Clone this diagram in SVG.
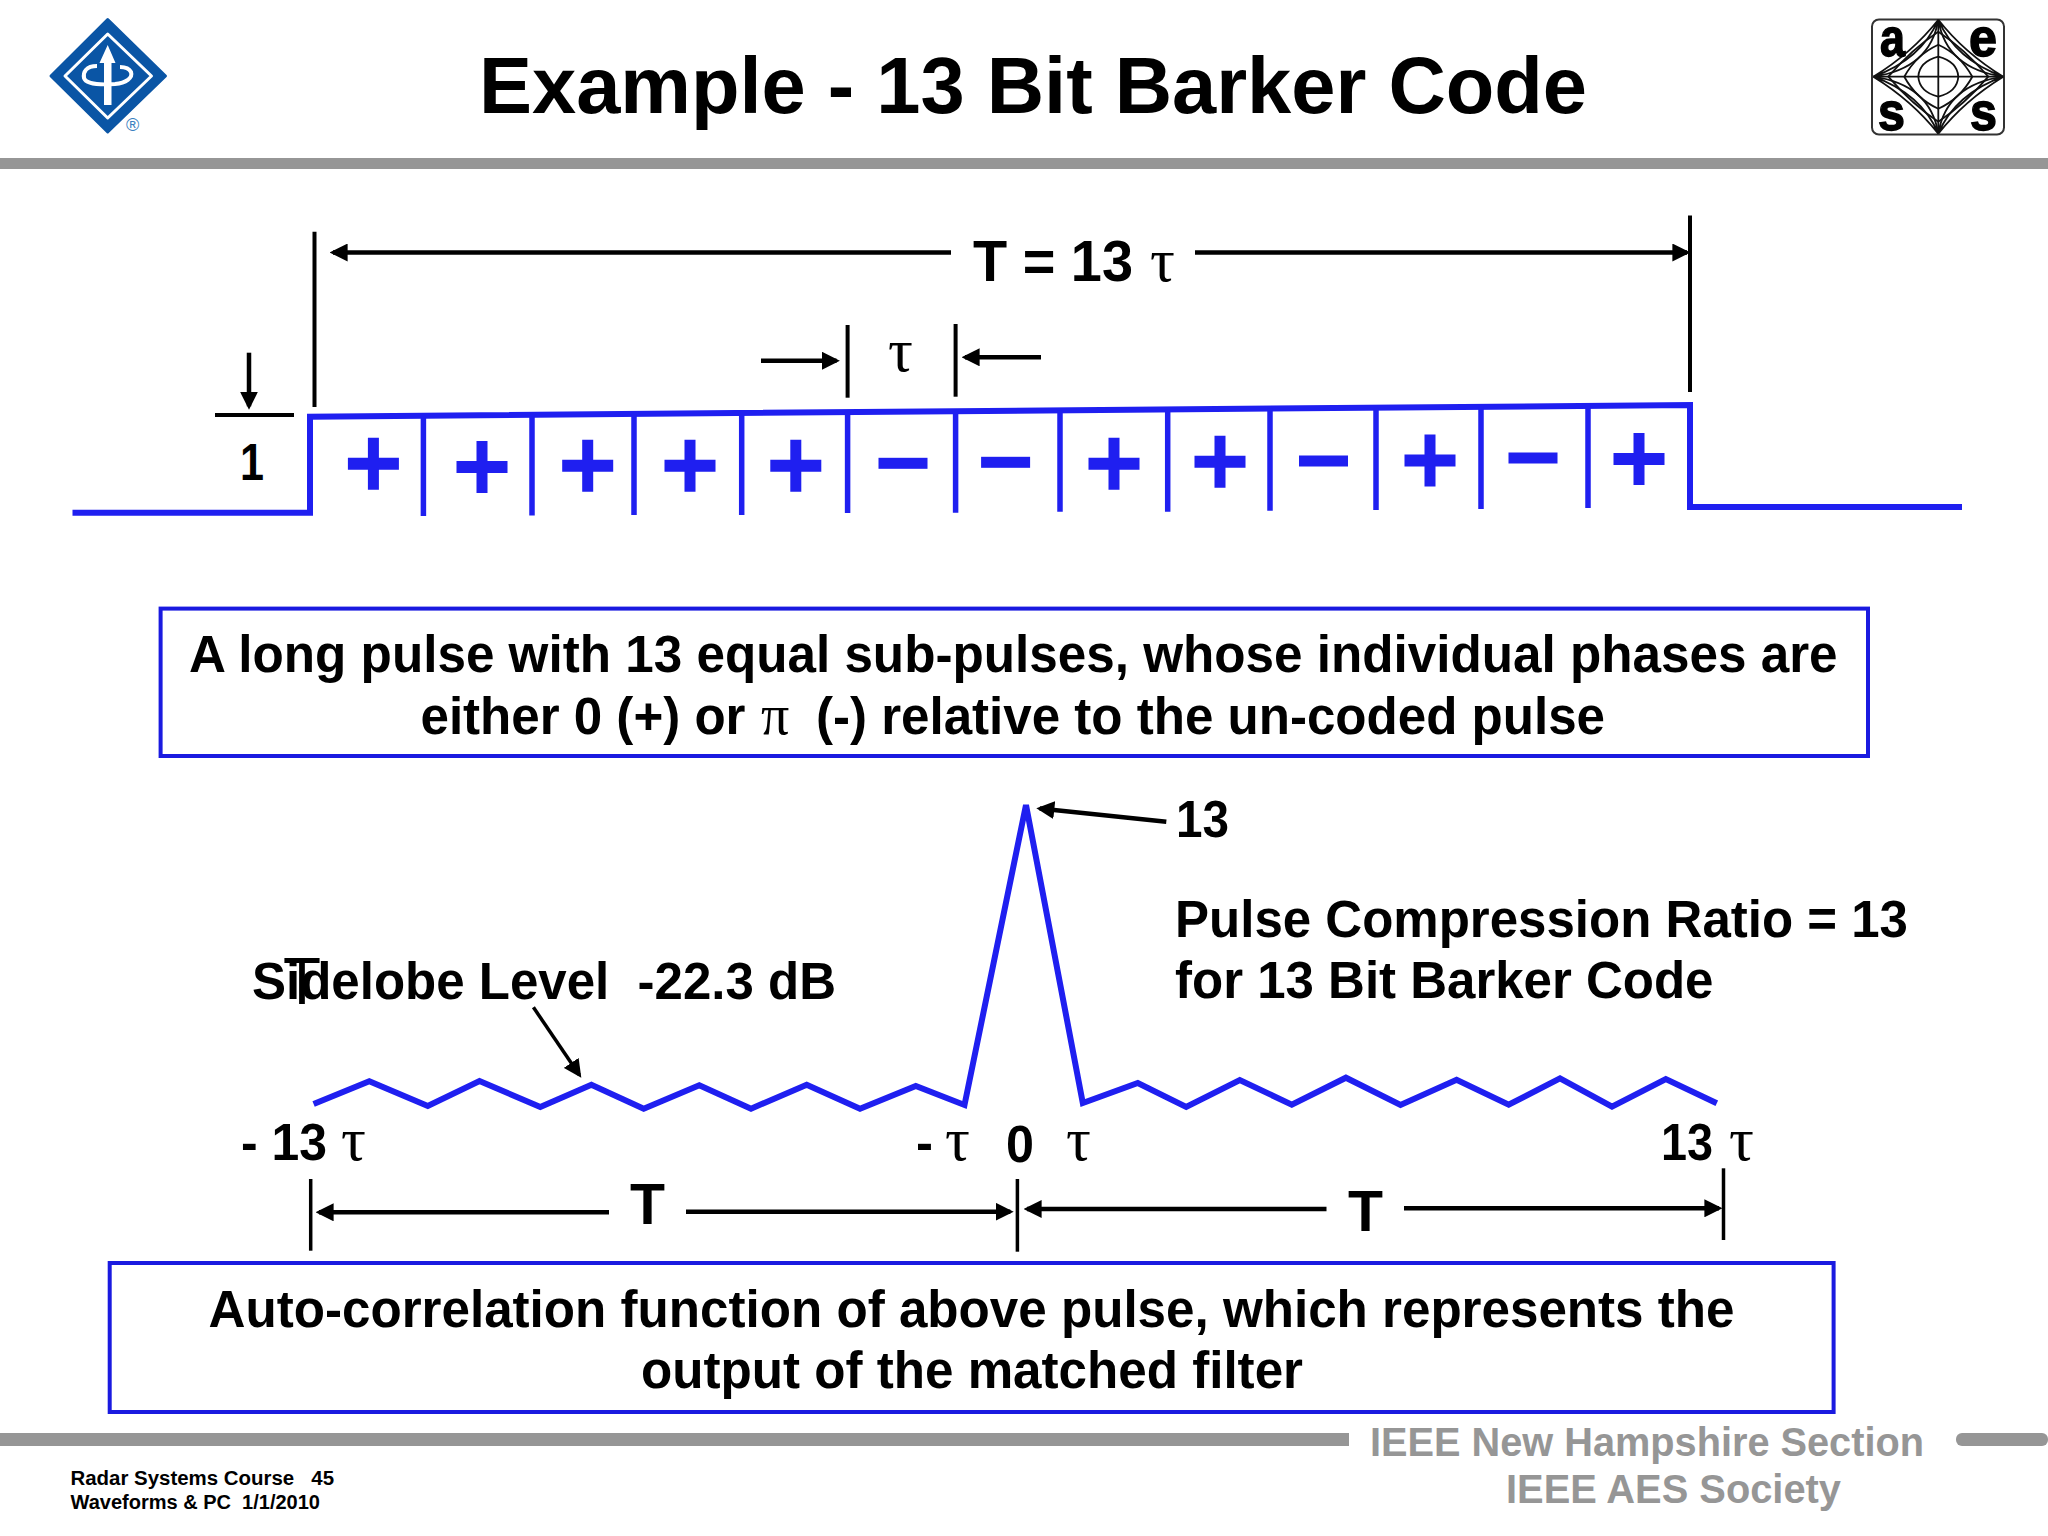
<svg xmlns="http://www.w3.org/2000/svg" xmlns:xlink="http://www.w3.org/1999/xlink" width="2048" height="1536" viewBox="0 0 2048 1536">
<style>
text{font-family:"Liberation Sans",Arial,sans-serif;font-weight:700;fill:#000}
.t50{font-size:51px}.t56{font-size:57px}
.tau{font-family:"Liberation Serif","Times New Roman",serif;font-weight:400;font-size:62px}
.foot{font-size:20px}
.grey{font-size:41px;fill:#969696}
.rule{fill:#969696}
.sig{fill:none;stroke:#1f1ff0;stroke-width:6;stroke-linejoin:miter}
.tick{fill:none;stroke:#1f1ff0;stroke-width:5.500}
.sym{fill:#1f1ff0}
.box{fill:#fff;stroke:#1a1ae0;stroke-width:4}
.dim{fill:none;stroke:#000;stroke-width:4}
.ext{fill:none;stroke:#000;stroke-width:3.500}
.arr{fill:none;stroke:#000;stroke-width:4.500;marker-end:url(#ah)}
.star{fill:none;stroke:#111;stroke-width:1.800}
</style>
<defs>
<marker id="ah" markerUnits="userSpaceOnUse" markerWidth="18" markerHeight="18" viewBox="0 0 16 16" refX="13" refY="8" orient="auto"><path d="M0,0L16,8L0,16Z" fill="#000"/></marker>
<path id="pl" d="M-5.500,-26H5.500V-6H25.500V6H5.500V26H-5.500V6H-25.500V-6H-5.500Z"/>
<rect id="mi" x="-24.500" y="-5.500" width="49" height="11"/>
<g id="q">
<path class="star" d="M0,-57Q8,-8 65,0M0,-57Q17,-17 65,0M0,-57Q26,-24 65,0"/>
<path class="star" d="M0,-20Q19,-15 20,0M0,-32Q22,-22 34,0M0,-45Q26,-28 50,0"/>
</g>
</defs>
<rect width="2048" height="1536" fill="#fff"/>

<g id="header">
<rect class="rule" x="0" y="158" width="2048" height="11"/>
<text id="title" x="479" y="112.500" font-size="80" textLength="1108" lengthAdjust="spacingAndGlyphs">Example - 13 Bit Barker Code</text>
</g>

<g id="ieee-logo">
<path d="M107.700,19.500L165.500,76L107.700,132L51,76Z" fill="#0a55a5" stroke="#0a55a5" stroke-width="3" stroke-linejoin="round"/>
<path d="M107.700,34L151.500,76L107.700,118L65,76Z" fill="none" stroke="#fff" stroke-width="3" stroke-linejoin="round"/>
<path d="M104,105V63H99.500L107.700,45L115.500,63H111.500V105Z" fill="#fff"/>
<path d="M97,66C86,66 83,72 84,78C86,84 100,85 115,84C126,83 133,78 131,72C129,68 124,67 120,67" fill="none" stroke="#fff" stroke-width="4"/>
<text x="126" y="131" font-size="18" style="font-weight:400;fill:#3a7fc0">®</text>
</g>

<g id="aes-logo">
<rect x="1872" y="19.500" width="132" height="115" rx="7" fill="#fff" stroke="#333" stroke-width="2"/>
<path class="star" d="M1938.300,20V133M1874,76.700H2003"/>
<use xlink:href="#q" href="#q" transform="translate(1938.300,76.700)"/>
<use xlink:href="#q" href="#q" transform="translate(1938.300,76.700) scale(-1,1)"/>
<use xlink:href="#q" href="#q" transform="translate(1938.300,76.700) scale(1,-1)"/>
<use xlink:href="#q" href="#q" transform="translate(1938.300,76.700) scale(-1,-1)"/>
<text x="1880" y="56" font-size="54" stroke="#000" stroke-width="1.500" textLength="25" lengthAdjust="spacingAndGlyphs">a</text>
<text x="1969" y="56" font-size="54" stroke="#000" stroke-width="1.500" textLength="28" lengthAdjust="spacingAndGlyphs">e</text>
<text x="1878" y="130" font-size="54" stroke="#000" stroke-width="1.500" textLength="27" lengthAdjust="spacingAndGlyphs">s</text>
<text x="1970" y="130" font-size="54" stroke="#000" stroke-width="1.500" textLength="27" lengthAdjust="spacingAndGlyphs">s</text>
</g>

<g id="connectors">
<path class="dim" d="M314.500,231.700V407"/>
<path class="dim" d="M1690,215.500V392"/>
<path class="arr" d="M951,252.500H333"/>
<path class="arr" d="M1195,252.500H1687"/>
<path class="dim" d="M847.600,325V397.700"/>
<path class="dim" d="M955.600,324V396.700"/>
<path class="arr" d="M761,360.700H836.500"/>
<path class="arr" d="M1041,357.300H965"/>
<path class="arr" d="M249,352.700V406.300"/>
<path d="M215,415H294" fill="none" stroke="#000" stroke-width="4"/>
<path class="arr" d="M533.400,1007.300L579.400,1075" style="stroke-width:3.500"/>
<path class="arr" d="M1166.300,821.700L1039.700,808.600"/>
<path class="ext" d="M310.700,1179V1250.700"/>
<path class="ext" d="M1017.400,1179V1251.700"/>
<path class="ext" d="M1723.500,1168.300V1240"/>
<path class="arr" d="M609,1212.300H319"/>
<path class="arr" d="M686,1211.700H1010.300"/>
<path class="arr" d="M1326.500,1209H1027"/>
<path class="arr" d="M1404,1208.300H1719"/>
</g>

<g id="coded-pulse">
<path class="sig" d="M72.500,512.700H310V416.700L1690,405V507H1962"/>
<path class="tick" d="M423.400,416V516M532,415V515.500M634,414V515M741.700,413V515M847.600,412V513M955.600,411V512.700M1060,410.500V511.700M1167.700,409.500V511.700M1270,408.500V510.700M1376,408V510M1481,407V509M1588,406.500V508"/>
<g class="sym">
<use xlink:href="#pl" href="#pl" x="373.400" y="463.700"/>
<use xlink:href="#pl" href="#pl" x="482" y="467"/>
<use xlink:href="#pl" href="#pl" x="587.700" y="465.700"/>
<use xlink:href="#pl" href="#pl" x="690" y="465.700"/>
<use xlink:href="#pl" href="#pl" x="795.800" y="465.700"/>
<use xlink:href="#mi" href="#mi" x="903" y="463.300"/>
<use xlink:href="#mi" href="#mi" x="1005.600" y="462.300"/>
<use xlink:href="#pl" href="#pl" x="1114" y="463.700"/>
<use xlink:href="#pl" href="#pl" x="1220" y="461.700"/>
<use xlink:href="#mi" href="#mi" x="1323.500" y="461"/>
<use xlink:href="#pl" href="#pl" x="1430" y="460.500"/>
<use xlink:href="#mi" href="#mi" x="1533" y="458"/>
<use xlink:href="#pl" href="#pl" x="1639" y="459"/>
</g>
</g>

<g id="pulse-labels">
<text class="t56" x="973" y="280.500" textLength="160" lengthAdjust="spacingAndGlyphs">T = 13</text>
<text class="tau" x="1150" y="280.500">τ</text>
<text class="tau" x="888" y="371">τ</text>
<text class="t50" x="240" y="479.500" textLength="24" lengthAdjust="spacingAndGlyphs">1</text>
</g>

<g id="pulse-note">
<rect class="box" x="160.600" y="608.600" width="1707.400" height="147.400"/>
<text class="t50" x="189" y="672" textLength="1648.600" lengthAdjust="spacingAndGlyphs">A long pulse with 13 equal sub-pulses, whose individual phases are</text>
<text class="t50" x="420.500" y="734" textLength="325" lengthAdjust="spacingAndGlyphs">either 0 (+) or</text>
<text class="tau" x="761" y="734" style="font-size:56px">π</text>
<text class="t50" x="816" y="734" textLength="789" lengthAdjust="spacingAndGlyphs">(-) relative to the un-coded pulse</text>
</g>

<g id="autocorrelation">
<polyline class="sig" points="313.600,1104 369.300,1081.300 427.800,1106 479.500,1081 540.300,1107 591.400,1084.700 643.700,1108.700 699.300,1085.300 751,1108.700 806.700,1084.700 860,1108.700 915.800,1086 964.500,1105 1026,805 1082.800,1103 1137.800,1083 1186.200,1107 1239.800,1080 1291.800,1104.700 1345.900,1077.700 1400.500,1105 1456.600,1079.700 1508.700,1104.700 1560,1078.300 1612,1106.700 1665.800,1079 1716.800,1103.300"/>
</g>

<g id="auto-labels">
<text class="t50" x="1176" y="837.300" textLength="53" lengthAdjust="spacingAndGlyphs">13</text>
<text class="t50" x="1175" y="936.700" textLength="733" lengthAdjust="spacingAndGlyphs">Pulse Compression Ratio = 13</text>
<text class="t50" x="1175" y="998" textLength="538.500" lengthAdjust="spacingAndGlyphs">for 13 Bit Barker Code</text>
<text class="t50" x="252" y="999.300" textLength="584" lengthAdjust="spacingAndGlyphs" xml:space="preserve" style="white-space:pre">Sidelobe Level  -22.3 dB</text>
<text x="283" y="1004" font-size="66" style="font-weight:400" textLength="38" lengthAdjust="spacingAndGlyphs">T</text>
<text class="t50" x="241" y="1160" textLength="86" lengthAdjust="spacingAndGlyphs">- 13</text>
<text class="tau" x="341" y="1160">τ</text>
<text class="t50" x="916" y="1160">-</text>
<text class="tau" x="945" y="1160">τ</text>
<text class="t50" x="1006" y="1161.700" textLength="28" lengthAdjust="spacingAndGlyphs">0</text>
<text class="tau" x="1066" y="1160">τ</text>
<text class="t50" x="1661" y="1160" textLength="52" lengthAdjust="spacingAndGlyphs">13</text>
<text class="tau" x="1729" y="1160">τ</text>
<text class="t56" x="630" y="1224" textLength="35" lengthAdjust="spacingAndGlyphs">T</text>
<text class="t56" x="1348" y="1230.700" textLength="35" lengthAdjust="spacingAndGlyphs">T</text>
</g>

<g id="auto-note">
<rect class="box" x="109.700" y="1263" width="1723.900" height="149"/>
<text class="t50" x="208.500" y="1326.500" textLength="1526" lengthAdjust="spacingAndGlyphs">Auto-correlation function of above pulse, which represents the</text>
<text class="t50" x="641" y="1387.500" textLength="662" lengthAdjust="spacingAndGlyphs">output of the matched filter</text>
</g>

<g id="footer">
<rect class="rule" x="0" y="1433" width="1349" height="13"/>
<rect class="rule" x="1956" y="1433" width="92" height="13" rx="6"/>
<text class="foot" x="70.500" y="1485" textLength="263.500" lengthAdjust="spacingAndGlyphs" xml:space="preserve" style="white-space:pre">Radar Systems Course   45</text>
<text class="foot" x="70.500" y="1508.500" textLength="249.500" lengthAdjust="spacingAndGlyphs" xml:space="preserve" style="white-space:pre">Waveforms &amp; PC  1/1/2010</text>
<text class="grey" x="1370" y="1456" textLength="554" lengthAdjust="spacingAndGlyphs">IEEE New Hampshire Section</text>
<text class="grey" x="1506" y="1503" textLength="335" lengthAdjust="spacingAndGlyphs">IEEE AES Society</text>
</g>
</svg>
